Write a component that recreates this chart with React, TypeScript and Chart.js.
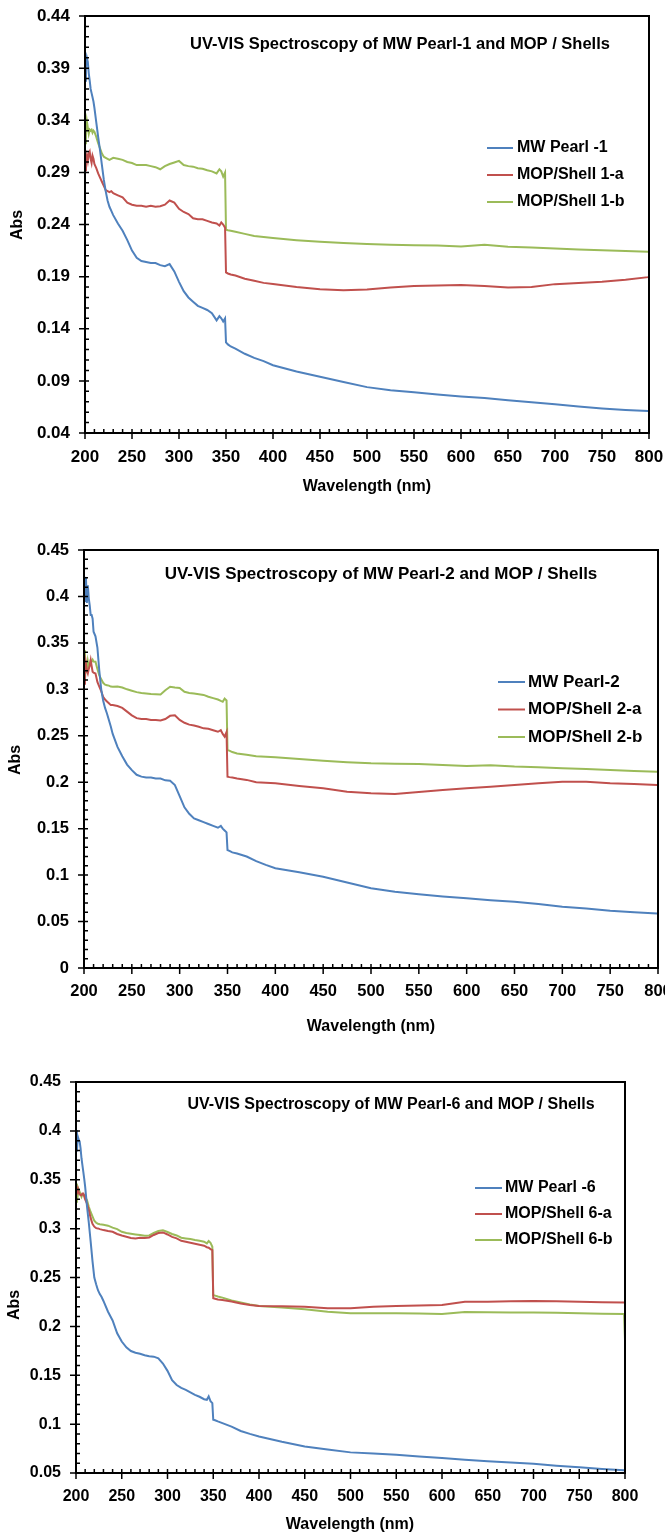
import { useEffect, useRef } from "react";
import { Chart, registerables } from "chart.js";

Chart.register(...registerables);

// Sampling grid shared by every spectrum (nm)
const WAVELENGTH = [
  200, 201, 202, 203, 204, 205, 206, 207, 208, 209, 210,
  212, 214, 216, 218, 220, 222, 224, 226, 228, 230,
  235, 240, 245, 250, 255, 260, 265, 270, 275, 280, 285, 290, 295, 300, 305, 310, 315, 320, 325, 330, 335, 340,
  343, 345, 347, 349, 350, 352, 355, 360,
  370, 380, 390, 400,
  425, 450, 475, 500, 525, 550, 575, 600, 625, 650, 675, 700, 725, 750, 775,
  799, 800,
];

const WAVELENGTH_TICKS = [200, 250, 300, 350, 400, 450, 500, 550, 600, 650, 700, 750, 800];
const ABS_TICKS_1 = [0.04, 0.09, 0.14, 0.19, 0.24, 0.29, 0.34, 0.39, 0.44];
const ABS_TICKS_2 = [0, 0.05, 0.1, 0.15, 0.2, 0.25, 0.3, 0.35, 0.4, 0.45];
const ABS_TICKS_6 = [0.05, 0.1, 0.15, 0.2, 0.25, 0.3, 0.35, 0.4, 0.45];

// Panel 1
const MW_PEARL_1 = [
  0.378, 0.392, 0.4, 0.396, 0.385, 0.378, 0.37, 0.366, 0.362, 0.358, 0.352,
  0.338, 0.324, 0.311, 0.297, 0.283, 0.272, 0.263, 0.257, 0.253, 0.249,
  0.241, 0.234, 0.225, 0.215, 0.208, 0.205, 0.204, 0.203, 0.203, 0.201, 0.2, 0.202, 0.195, 0.185, 0.176, 0.17, 0.166, 0.162, 0.16, 0.158, 0.155, 0.148,
  0.152, 0.15, 0.147, 0.15, 0.127, 0.125, 0.123, 0.121,
  0.116, 0.112, 0.109, 0.105,
  0.099, 0.094, 0.089, 0.084, 0.081, 0.079, 0.077, 0.075, 0.0735, 0.0715, 0.0695, 0.0676, 0.0655, 0.0635, 0.062,
  0.061, 0.061,
];
const MOP_SHELL_1A = [
  0.292, 0.3, 0.306, 0.301, 0.308, 0.31, 0.303, 0.299, 0.306, 0.303, 0.298,
  0.294, 0.289, 0.285, 0.281, 0.277, 0.273, 0.272, 0.271, 0.272, 0.27,
  0.268, 0.266, 0.261, 0.259, 0.258, 0.258, 0.257, 0.258, 0.257, 0.2575, 0.259, 0.263, 0.261, 0.255, 0.252, 0.25, 0.246, 0.245, 0.245, 0.2435, 0.242, 0.241,
  0.239, 0.242, 0.24, 0.237, 0.194, 0.193, 0.192, 0.191,
  0.188, 0.186, 0.184, 0.183,
  0.18, 0.178, 0.177, 0.1777, 0.1796, 0.181, 0.1815, 0.182, 0.181, 0.1796, 0.18, 0.1828, 0.184, 0.185, 0.187,
  0.1895, 0.19,
];
const MOP_SHELL_1B = [
  0.318, 0.328, 0.339, 0.333, 0.327, 0.331, 0.33, 0.331, 0.328, 0.33, 0.329,
  0.324, 0.318, 0.313, 0.308, 0.305, 0.304, 0.303, 0.302, 0.303, 0.304,
  0.303, 0.302, 0.3, 0.299, 0.297, 0.297, 0.297, 0.296, 0.295, 0.293, 0.296, 0.298, 0.2995, 0.301, 0.297, 0.296, 0.2955, 0.294, 0.2935, 0.292, 0.291, 0.289,
  0.293, 0.291, 0.286, 0.29, 0.235, 0.2345, 0.234, 0.233,
  0.231, 0.229, 0.228, 0.227,
  0.225, 0.2235, 0.2222, 0.2212, 0.2206, 0.2202, 0.2198, 0.219, 0.2205, 0.2186, 0.218, 0.217, 0.216, 0.2154, 0.2145,
  0.2138, 0.2138,
];

// Panel 2
const MW_PEARL_2 = [
  0.395, 0.407, 0.421, 0.393, 0.412, 0.398, 0.39, 0.38, 0.38, 0.376, 0.362,
  0.357, 0.345, 0.32, 0.3, 0.288, 0.28, 0.274, 0.267, 0.26, 0.252,
  0.238, 0.228, 0.219, 0.213, 0.208, 0.206, 0.205, 0.205, 0.204, 0.204, 0.202, 0.2015, 0.197, 0.185, 0.173, 0.166, 0.161, 0.159, 0.157, 0.155, 0.153, 0.151,
  0.153, 0.15, 0.148, 0.146, 0.127, 0.126, 0.1245, 0.1232,
  0.12, 0.115, 0.111, 0.1074,
  0.103, 0.0983, 0.092, 0.0858, 0.082, 0.0793, 0.077, 0.075, 0.073, 0.0714, 0.069, 0.066, 0.064, 0.0617, 0.06,
  0.0588, 0.0588,
];
const MOP_SHELL_2A = [
  0.306, 0.315, 0.328, 0.32, 0.317, 0.322, 0.326, 0.3315, 0.325, 0.319, 0.318,
  0.317, 0.308, 0.303, 0.298, 0.292, 0.289, 0.287, 0.285, 0.283, 0.283,
  0.282, 0.28, 0.276, 0.272, 0.269, 0.268, 0.268, 0.267, 0.267, 0.2665, 0.268, 0.2715, 0.272, 0.267, 0.264, 0.262, 0.261, 0.2597, 0.258, 0.2575, 0.256, 0.2543,
  0.256, 0.252, 0.249, 0.254, 0.206, 0.2055, 0.205, 0.204,
  0.2025, 0.2, 0.1995, 0.1988,
  0.196, 0.1934, 0.1898, 0.188, 0.1873, 0.1895, 0.1915, 0.1934, 0.1952, 0.197, 0.1988, 0.2006, 0.2006, 0.1988, 0.198,
  0.197, 0.197,
];
const MOP_SHELL_2B = [
  0.342, 0.31, 0.328, 0.318, 0.33, 0.324, 0.326, 0.331, 0.33, 0.332, 0.33,
  0.3297, 0.322, 0.315, 0.311, 0.307, 0.305, 0.3045, 0.304, 0.303, 0.3028,
  0.303, 0.302, 0.3, 0.2985, 0.297, 0.296, 0.2956, 0.295, 0.2948, 0.2945, 0.299, 0.3028, 0.302, 0.3015, 0.2974, 0.296, 0.2955, 0.2948, 0.294, 0.292, 0.2905, 0.289,
  0.2875, 0.2866, 0.29, 0.288, 0.2345, 0.234, 0.2325, 0.231,
  0.2295, 0.228, 0.2275, 0.2268,
  0.225, 0.2232, 0.2215, 0.2203, 0.22, 0.2196, 0.2185, 0.2175, 0.2182, 0.2168, 0.216, 0.215, 0.2142, 0.2132, 0.2122,
  0.2114, 0.2114,
];

// Panel 3
const MW_PEARL_6 = [
  0.401, 0.379, 0.394, 0.391, 0.389, 0.382, 0.372, 0.365, 0.358, 0.351, 0.343,
  0.323, 0.306, 0.287, 0.267, 0.25, 0.243, 0.237, 0.233, 0.23, 0.226,
  0.215, 0.206, 0.193, 0.1845, 0.1785, 0.1748, 0.173, 0.172, 0.1705, 0.1695, 0.169, 0.1674, 0.162, 0.1545, 0.145, 0.14, 0.137, 0.135, 0.1325, 0.13, 0.128, 0.1255,
  0.1249, 0.1283, 0.1235, 0.1215, 0.1045, 0.104, 0.1028, 0.101,
  0.0975, 0.093, 0.09, 0.0874,
  0.082, 0.0772, 0.074, 0.0711, 0.07, 0.0687, 0.067, 0.0653, 0.0635, 0.0619, 0.0607, 0.0595, 0.0575, 0.0558, 0.054,
  0.0527, 0.0527,
];
const MOP_SHELL_6A = [
  0.336, 0.338, 0.341, 0.337, 0.335, 0.3343, 0.334, 0.336, 0.336, 0.333, 0.33,
  0.3257, 0.319, 0.311, 0.305, 0.302, 0.3005, 0.3002, 0.2995, 0.299, 0.2985,
  0.2975, 0.2968, 0.2945, 0.293, 0.2917, 0.2905, 0.29, 0.2907, 0.2905, 0.291, 0.2935, 0.2955, 0.2961, 0.294, 0.2915, 0.29, 0.2875, 0.2866, 0.2855, 0.2845, 0.2835, 0.2825,
  0.281, 0.2805, 0.279, 0.2781, 0.2287, 0.2282, 0.2275, 0.227,
  0.2255, 0.2235, 0.2219, 0.2209,
  0.2205, 0.2202, 0.2185, 0.2185, 0.2202, 0.2209, 0.2214, 0.2219, 0.2253, 0.2253, 0.2256, 0.226, 0.2256, 0.2253, 0.2248,
  0.2243, 0.2243,
];
const MOP_SHELL_6B = [
  0.3274, 0.346, 0.3343, 0.34, 0.3377, 0.335, 0.3326, 0.335, 0.3343, 0.3343, 0.332,
  0.3291, 0.3223, 0.317, 0.3125, 0.308, 0.306, 0.305, 0.3045, 0.3043, 0.304,
  0.303, 0.301, 0.2995, 0.2968, 0.2955, 0.2948, 0.2941, 0.2935, 0.2927, 0.293, 0.2955, 0.2975, 0.2982, 0.2965, 0.2945, 0.293, 0.2907, 0.29, 0.2893, 0.2883, 0.2875, 0.2866,
  0.2849, 0.2873, 0.2855, 0.2815, 0.2321, 0.2315, 0.2305, 0.2294,
  0.2265, 0.2245, 0.2225, 0.2209,
  0.2192, 0.2175, 0.215, 0.2134, 0.2134, 0.2134, 0.2132, 0.2127, 0.2148, 0.2144, 0.2142, 0.2142, 0.214, 0.2134, 0.213,
  0.2127, 0.186,
];

const COLORS = ["#4F81BD", "#C0504D", "#9BBB59"];
const FONT = '"Liberation Sans", Arial, sans-serif';
const WIDTH = 665;

type Panel = {
  title: string;
  labels: string[];
  series: number[][];
  yTicks: number[];
  yFormat: (v: number) => string;
  top: number;
  height: number;
  plotBottom: number;
  plot: { left: number; right: number; top: number };
  tickSize: number;
  titlePos: { x: number; y: number; size: number };
  absPos: { x: number; y: number };
  wlPos: { x: number; y: number };
  legend: { x1: number; x2: number; tx: number; y0: number; gap: number; size: number };
};

const general = (v: number) => String(Number(v.toFixed(2)));

const PANELS: Panel[] = [
  {
    title: "UV-VIS Spectroscopy of MW Pearl-1 and MOP / Shells",
    labels: ["MW Pearl -1", "MOP/Shell 1-a", "MOP/Shell 1-b"],
    series: [MW_PEARL_1, MOP_SHELL_1A, MOP_SHELL_1B],
    yTicks: ABS_TICKS_1,
    yFormat: (v) => v.toFixed(2),
    top: 0,
    height: 500,
    plotBottom: 433,
    plot: { left: 85, right: 649, top: 16 },
    tickSize: 17,
    titlePos: { x: 400, y: 44, size: 16.5 },
    absPos: { x: 18, y: 225 },
    wlPos: { x: 367, y: 487 },
    legend: { x1: 487, x2: 513, tx: 517, y0: 148, gap: 27, size: 16 },
  },
  {
    title: "UV-VIS Spectroscopy of MW Pearl-2 and MOP / Shells",
    labels: ["MW Pearl-2", "MOP/Shell 2-a", "MOP/Shell 2-b"],
    series: [MW_PEARL_2, MOP_SHELL_2A, MOP_SHELL_2B],
    yTicks: ABS_TICKS_2,
    yFormat: general,
    top: 500,
    height: 545,
    plotBottom: 468,
    plot: { left: 84, right: 658, top: 50 },
    tickSize: 16.5,
    titlePos: { x: 381, y: 74, size: 17 },
    absPos: { x: 16, y: 260 },
    wlPos: { x: 371, y: 527 },
    legend: { x1: 498, x2: 525, tx: 528, y0: 182, gap: 27.5, size: 17 },
  },
  {
    title: "UV-VIS Spectroscopy of MW Pearl-6 and MOP / Shells",
    labels: ["MW Pearl -6", "MOP/Shell 6-a", "MOP/Shell 6-b"],
    series: [MW_PEARL_6, MOP_SHELL_6A, MOP_SHELL_6B],
    yTicks: ABS_TICKS_6,
    yFormat: general,
    top: 1030,
    height: 504,
    plotBottom: 443,
    plot: { left: 76, right: 625, top: 52 },
    tickSize: 16,
    titlePos: { x: 391, y: 75, size: 16 },
    absPos: { x: 15, y: 275 },
    wlPos: { x: 350, y: 495 },
    legend: { x1: 475, x2: 502, tx: 505, y0: 158, gap: 26, size: 16 },
  },
];

// Frame, minor/major tick marks, in-plot title, axis titles and legend
function framePlugin(panel: Panel) {
  return {
    id: "frame",
    afterDraw(chart: any) {
      const { ctx, chartArea: a } = chart;
      const xs = chart.scales.x;
      const ys = chart.scales.y;
      ctx.save();
      ctx.strokeStyle = "#000";
      ctx.lineWidth = 2;
      ctx.strokeRect(a.left, a.top, a.right - a.left, a.bottom - a.top);

      ctx.lineWidth = 1.5;
      ctx.beginPath();
      const nx = Math.round((xs.max - xs.min) / 10);
      for (let k = 0; k <= nx; k++) {
        const px = xs.getPixelForValue(xs.min + k * 10);
        const major = k % 5 === 0;
        ctx.moveTo(px, a.bottom - 4);
        ctx.lineTo(px, a.bottom + (major ? 6 : 0));
      }
      const ny = Math.round((ys.max - ys.min) / 0.01);
      for (let k = 0; k <= ny; k++) {
        const py = ys.getPixelForValue(ys.min + k * 0.01);
        const major = k % 5 === 0;
        ctx.moveTo(a.left - (major ? 6 : 0), py);
        ctx.lineTo(a.left + 4, py);
      }
      ctx.stroke();

      ctx.fillStyle = "#000";
      ctx.textBaseline = "middle";
      ctx.textAlign = "center";
      ctx.font = `bold ${panel.titlePos.size}px ${FONT}`;
      ctx.fillText(panel.title, panel.titlePos.x, panel.titlePos.y);

      ctx.font = `bold 16px ${FONT}`;
      ctx.fillText("Wavelength (nm)", panel.wlPos.x, panel.wlPos.y);

      ctx.save();
      ctx.translate(panel.absPos.x, panel.absPos.y);
      ctx.rotate(-Math.PI / 2);
      ctx.fillText("Abs", 0, 0);
      ctx.restore();

      const lg = panel.legend;
      ctx.textAlign = "left";
      ctx.font = `bold ${lg.size}px ${FONT}`;
      chart.data.datasets.forEach((ds: any, i: number) => {
        const y = lg.y0 + i * lg.gap;
        ctx.strokeStyle = ds.borderColor;
        ctx.lineWidth = 2;
        ctx.beginPath();
        ctx.moveTo(lg.x1, y);
        ctx.lineTo(lg.x2, y);
        ctx.stroke();
        ctx.fillStyle = "#000";
        ctx.fillText(ds.label, lg.tx, y);
      });
      ctx.restore();
    },
  };
}

function PanelChart({ panel }: { panel: Panel }) {
  const ref = useRef<HTMLCanvasElement>(null);

  useEffect(() => {
    const p = panel.plot;
    const tickFont = { family: FONT, size: panel.tickSize, weight: "bold" as const };
    const chart = new Chart(ref.current!, {
      type: "line",
      data: {
        datasets: panel.series.map((vals, i) => ({
          label: panel.labels[i],
          data: WAVELENGTH.map((x, j) => ({ x, y: vals[j] })),
          borderColor: COLORS[i],
          borderWidth: 2,
          pointRadius: 0,
          tension: 0,
          fill: false,
        })),
      },
      options: {
        animation: false,
        responsive: false,
        devicePixelRatio: 1,
        events: [],
        layout: { padding: { left: 0, top: p.top, right: WIDTH - p.right, bottom: 0 } },
        plugins: { legend: { display: false }, tooltip: { enabled: false } },
        scales: {
          x: {
            type: "linear",
            min: 200,
            max: 800,
            grid: { display: false, drawTicks: false },
            border: { display: false },
            afterBuildTicks: (s: any) => {
              s.ticks = WAVELENGTH_TICKS.map((value) => ({ value }));
            },
            afterFit: (s: any) => {
              s.height = panel.height - panel.plotBottom;
              s.paddingLeft = 0;
              s.paddingRight = 0;
            },
            ticks: {
              color: "#000",
              font: tickFont,
              padding: 14,
              maxRotation: 0,
              autoSkip: false,
            },
          },
          y: {
            type: "linear",
            min: panel.yTicks[0],
            max: panel.yTicks[panel.yTicks.length - 1],
            grid: { display: false, drawTicks: false },
            border: { display: false },
            afterBuildTicks: (s: any) => {
              s.ticks = panel.yTicks.map((value) => ({ value }));
            },
            afterFit: (s: any) => {
              s.width = p.left;
              s.paddingTop = 0;
              s.paddingBottom = 0;
            },
            ticks: {
              color: "#000",
              font: tickFont,
              padding: 15,
              autoSkip: false,
              callback: (v: any) => panel.yFormat(Number(v)),
            },
          },
        },
      },
      plugins: [framePlugin(panel)],
    } as any);
    return () => chart.destroy();
  }, [panel]);

  return (
    <canvas
      ref={ref}
      width={WIDTH}
      height={panel.height}
      style={{ position: "absolute", left: 0, top: panel.top, width: WIDTH, height: panel.height }}
    />
  );
}

export default function App() {
  return (
    <div style={{ position: "absolute", left: 0, top: 0, width: WIDTH, height: 1534, background: "#fff", overflow: "hidden" }}>
      {PANELS.map((panel) => (
        <PanelChart key={panel.title} panel={panel} />
      ))}
    </div>
  );
}
